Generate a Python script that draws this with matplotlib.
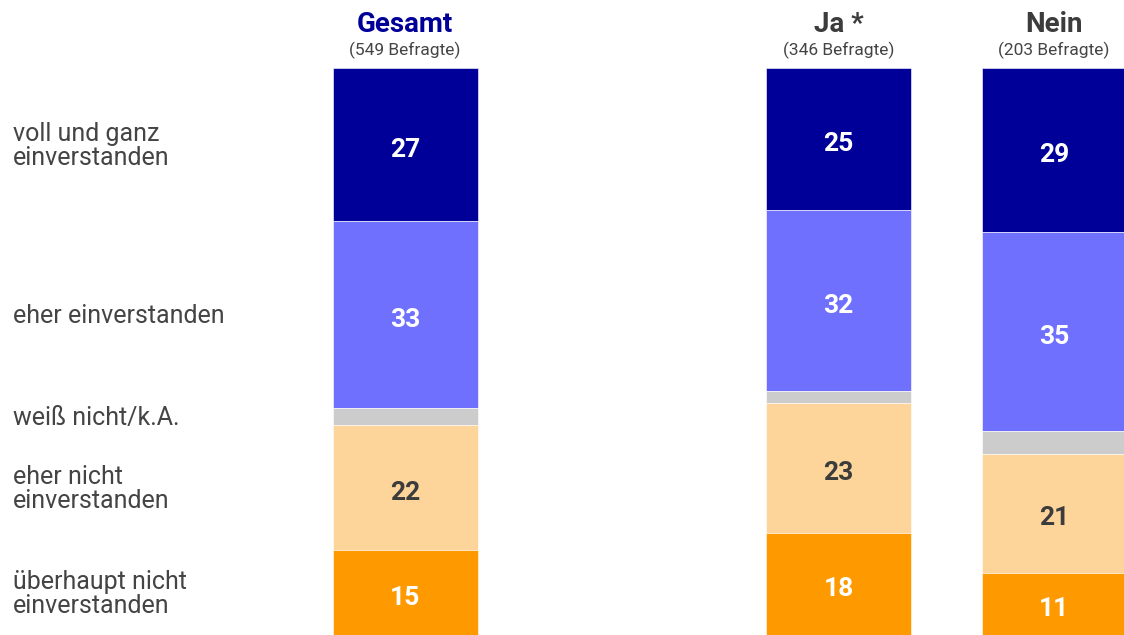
import matplotlib.pyplot as plt
import numpy as np

plt.rcParams['font.family'] = ['Roboto', 'DejaVu Sans']

# data
groups = ['Gesamt', 'Ja *', 'Nein']
respondents = ['(549 Befragte)', '(346 Befragte)', '(203 Befragte)']
categories = ['voll und ganz\neinverstanden', 'eher einverstanden', 'weiß nicht/k.A.',
              'eher nicht\neinverstanden', 'überhaupt nicht\neinverstanden']
voll = [27, 25, 29]
eher = [33, 32, 35]
weiss = [3, 2, 4]
eher_nicht = [22, 23, 21]
ueberhaupt = [15, 18, 11]

series = [voll, eher, weiss, eher_nicht, ueberhaupt]
colors = ['#000099', '#7070ff', '#cccccc', '#fdd59b', '#ff9900']
text_colors = ['white', 'white', None, '#3c3c3c', 'white']

# layout (pixels)
W, H = 1124, 635
top_px = 68
xpos = [405, 838.5, 1054]
bar_w = 145

fig = plt.figure(figsize=(W / 100, H / 100), dpi=100)
ax = fig.add_axes([0, 0, 1, (H - top_px) / H])
ax.set_xlim(0, W)
ax.set_ylim(100, 0)
ax.axis('off')

bottom = np.zeros(3)
for k, vals in enumerate(series):
    vals = np.array(vals, dtype=float)
    ax.bar(xpos, vals, width=bar_w, bottom=bottom, color=colors[k],
           edgecolor='white', linewidth=0.4)
    if text_colors[k] is not None:
        for i in range(3):
            ax.text(xpos[i], bottom[i] + vals[i] / 2 + 0.9, str(int(vals[i])),
                    ha='center', va='center', fontsize=19, fontweight='bold',
                    color=text_colors[k])
    # category label on the left, aligned to the Gesamt segment
    ax.text(13, bottom[0] + vals[0] / 2 + 0.3, categories[k], ha='left', va='center',
            fontsize=18, color='#444444', linespacing=1.0)
    bottom += vals

# headers
for i in range(3):
    fig.text(xpos[i] / W, 1 - 25 / H, groups[i], ha='center', va='center',
             fontsize=20, fontweight='bold',
             color='#000099' if i == 0 else '#3c3c3c')
    fig.text(xpos[i] / W, 1 - 50 / H, respondents[i], ha='center', va='center',
             fontsize=12.5, color='#444444')

fig.savefig('out.png', dpi=100)
